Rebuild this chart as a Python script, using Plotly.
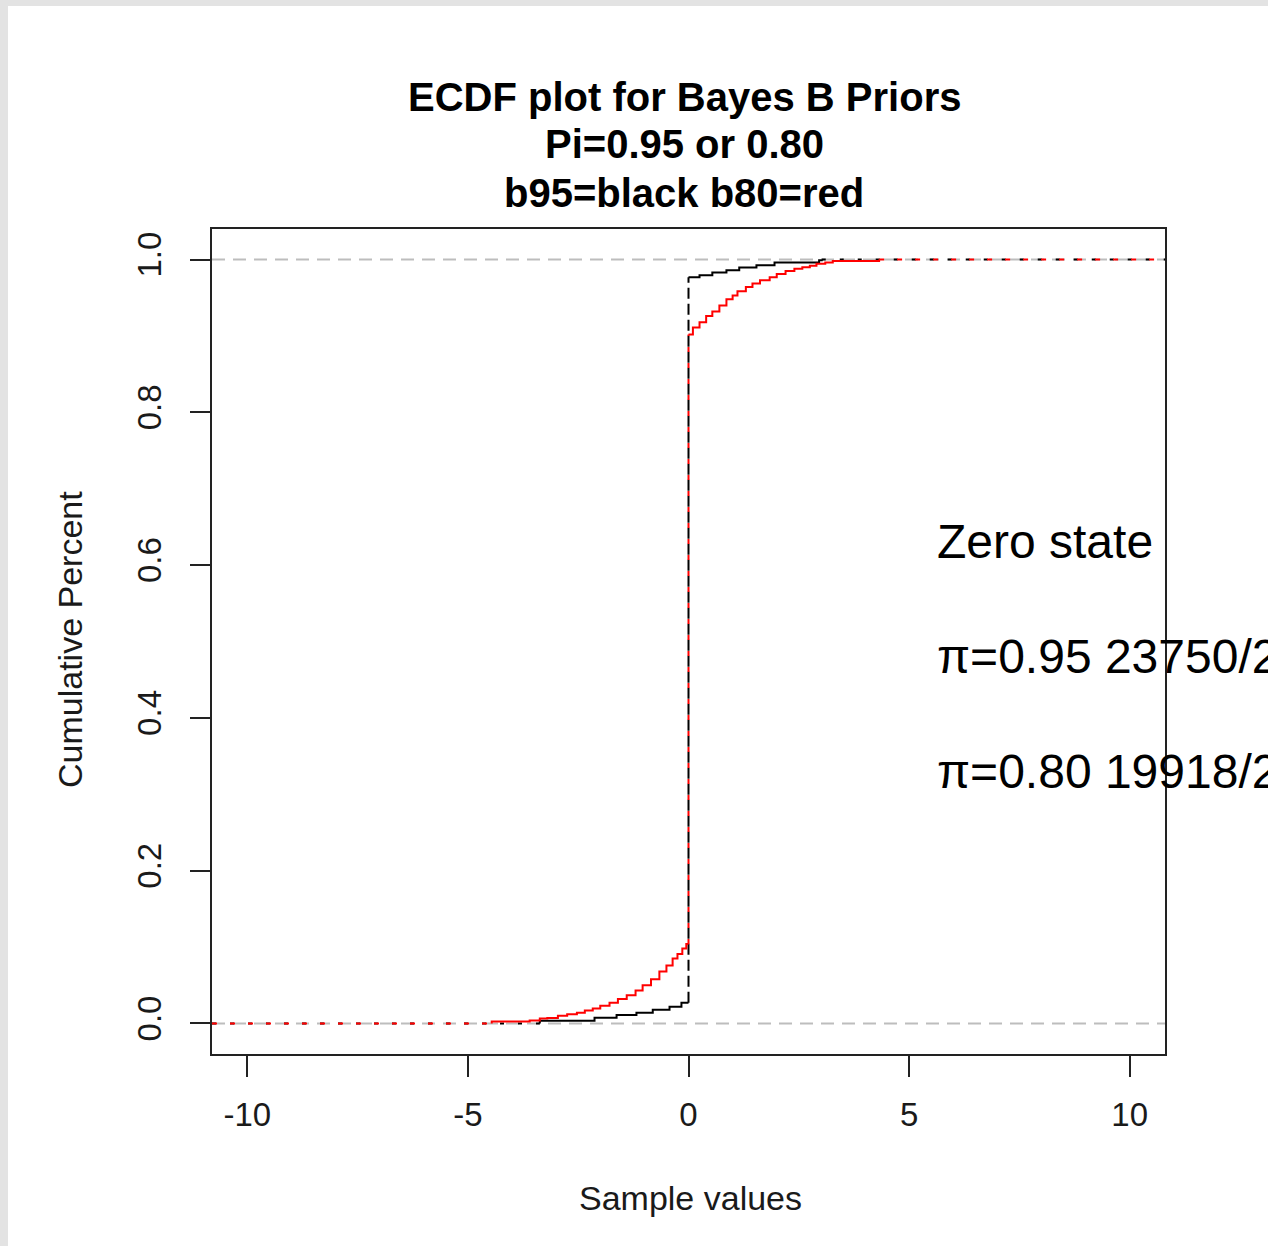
import plotly.graph_objects as go

# ---------------- data ----------------
X_TICKS = [-10, -5, 0, 5, 10]
Y_TICKS = [0.0, 0.2, 0.4, 0.6, 0.8, 1.0]

# b95 (black): negative-side steps, then jump at 0, then positive-side steps
b95_lower_x = [-3.37, -2.13, -1.63, -1.18, -0.81, -0.43, -0.16]
b95_lower_y = [0.0035, 0.0075, 0.011, 0.014, 0.018, 0.022, 0.027]
b95_upper_x = [0.0, 0.25, 0.54, 0.86, 1.15, 1.54, 1.95, 2.96, 3.02]
b95_upper_y = [0.977, 0.9795, 0.983, 0.986, 0.9895, 0.9925, 0.996, 0.999, 1.0]

# b80 (red)
b80_lower_x = [-4.46, -3.6, -3.37, -3.2, -2.96, -2.75, -2.53, -2.35, -2.17, -2.0,
               -1.79, -1.6, -1.4, -1.2, -1.04, -0.85, -0.66, -0.5, -0.36, -0.25,
               -0.14, -0.05]
b80_lower_y = [0.0026, 0.004, 0.0065, 0.007, 0.010, 0.012, 0.014, 0.017, 0.0196, 0.023,
               0.027, 0.032, 0.037, 0.043, 0.050, 0.058, 0.068, 0.076, 0.085, 0.091,
               0.098, 0.104]
b80_upper_x = [0.0, 0.1, 0.25, 0.4, 0.54, 0.7, 0.86, 1.0, 1.11, 1.3, 1.45, 1.62,
               1.84, 2.0, 2.2, 2.4, 2.58, 2.75, 2.9, 3.1, 3.27, 4.32]
b80_upper_y = [0.902, 0.911, 0.918, 0.926, 0.932, 0.940, 0.948, 0.953, 0.9586, 0.964,
               0.9686, 0.973, 0.977, 0.981, 0.985, 0.988, 0.990, 0.992, 0.9944, 0.996,
               0.998, 1.0]

TITLE_LINES = ["ECDF plot for Bayes B Priors", "Pi=0.95 or 0.80", "b95=black b80=red"]
NOTE_LINES = ["Zero state", "π=0.95 23750/25000", "π=0.80 19918/25000"]

X_RANGE = [-10.8, 10.8]
Y_RANGE = [-0.04, 1.04]

# ---------------- figure ----------------
W, H = 1268, 1246
L, R, T, B = 212, 103, 229, 192
PW, PH = W - L - R, H - T - B


def px(xp):
    return (xp - L) / PW


def py(yp):
    return (H - B - yp) / PH


fig = go.Figure()

# white page with grey strip on top/left (first shape -> bottom-most)
fig.add_shape(type="rect", xref="paper", yref="paper",
              x0=px(8), x1=px(W + 20), y0=py(H + 20), y1=py(6),
              fillcolor="white", line=dict(width=0), layer="below")

for yv in (0, 1):
    fig.add_hline(y=yv, line=dict(color="#bdbdbd", width=2, dash="13px,8px"),
                  layer="below")


def add_series(color, lx, ly, ux, uy, vdash, edash):
    # left extension along y=0
    fig.add_trace(go.Scatter(x=[X_RANGE[0], lx[0]], y=[0, 0], mode="lines",
                             line=dict(color=color, width=2, dash=edash),
                             hoverinfo="skip", showlegend=False))
    # negative-side steps
    fig.add_trace(go.Scatter(x=[lx[0]] + lx + [0.0], y=[0.0] + ly + [ly[-1]],
                             mode="lines", line=dict(color=color, width=2, shape="hv"),
                             showlegend=False))
    # jump at zero
    fig.add_trace(go.Scatter(x=[0.0, 0.0], y=[ly[-1], uy[0]], mode="lines",
                             line=dict(color=color, width=2, dash=vdash),
                             hoverinfo="skip", showlegend=False))
    # positive-side steps
    fig.add_trace(go.Scatter(x=ux, y=uy, mode="lines",
                             line=dict(color=color, width=2, shape="hv"),
                             showlegend=False))
    # right extension along y=1
    fig.add_trace(go.Scatter(x=[ux[-1], X_RANGE[1]], y=[1, 1], mode="lines",
                             line=dict(color=color, width=2, dash=edash),
                             hoverinfo="skip", showlegend=False))


add_series("#000000", b95_lower_x, b95_lower_y, b95_upper_x, b95_upper_y,
           "11px,5px", "4px,14px")
add_series("#ff0000", b80_lower_x, b80_lower_y, b80_upper_x, b80_upper_y,
           "5px,11px", "5px,13px")

FONT = "Liberation Sans, Arial, sans-serif"
TXT = "#1a1a1a"

title_y = [97, 144, 193]
for t, yy in zip(TITLE_LINES, title_y):
    fig.add_annotation(text=f"<b>{t}</b>", x=px(684), y=py(yy), xref="paper", yref="paper",
                       showarrow=False, xanchor="center", yanchor="middle",
                       font=dict(family=FONT, size=40, color="#000000"))

fig.add_annotation(text="Sample values", x=px(690), y=py(1198), xref="paper", yref="paper",
                   showarrow=False, xanchor="center", yanchor="middle",
                   font=dict(family=FONT, size=34, color=TXT))
fig.add_annotation(text="Cumulative Percent", x=px(70), y=py(640), xref="paper", yref="paper",
                   showarrow=False, xanchor="center", yanchor="middle", textangle=-90,
                   font=dict(family=FONT, size=34, color=TXT))

note_y = [541, 656, 771]
for t, yy in zip(NOTE_LINES, note_y):
    fig.add_annotation(text=t, x=px(935), y=py(yy), xref="paper", yref="paper",
                       showarrow=False, xanchor="left", yanchor="middle",
                       font=dict(family=FONT, size=48, color="#000000"))

fig.update_layout(
    width=W, height=H,
    margin=dict(l=L, r=R, t=T, b=B, pad=0),
    paper_bgcolor="#e3e3e3", plot_bgcolor="white",
    showlegend=False,
    font=dict(family=FONT, color=TXT),
)
fig.update_xaxes(range=X_RANGE, tickvals=X_TICKS, ticktext=[str(v) for v in X_TICKS],
                 ticks="outside", ticklen=21, tickwidth=2, tickcolor="#222",
                 showline=True, mirror=True, linecolor="#222", linewidth=2,
                 showgrid=False, zeroline=False,
                 tickfont=dict(family=FONT, size=33, color=TXT), ticklabelstandoff=9)
fig.update_yaxes(range=Y_RANGE, tickvals=Y_TICKS, ticktext=[f"{v:.1f}" for v in Y_TICKS],
                 ticks="outside", ticklen=20, tickwidth=2, tickcolor="#222",
                 showline=True, mirror=True, linecolor="#222", linewidth=2,
                 showgrid=False, zeroline=False, tickangle=-90,
                 tickfont=dict(family=FONT, size=33, color=TXT), ticklabelstandoff=16)

fig.write_html("out.html")
